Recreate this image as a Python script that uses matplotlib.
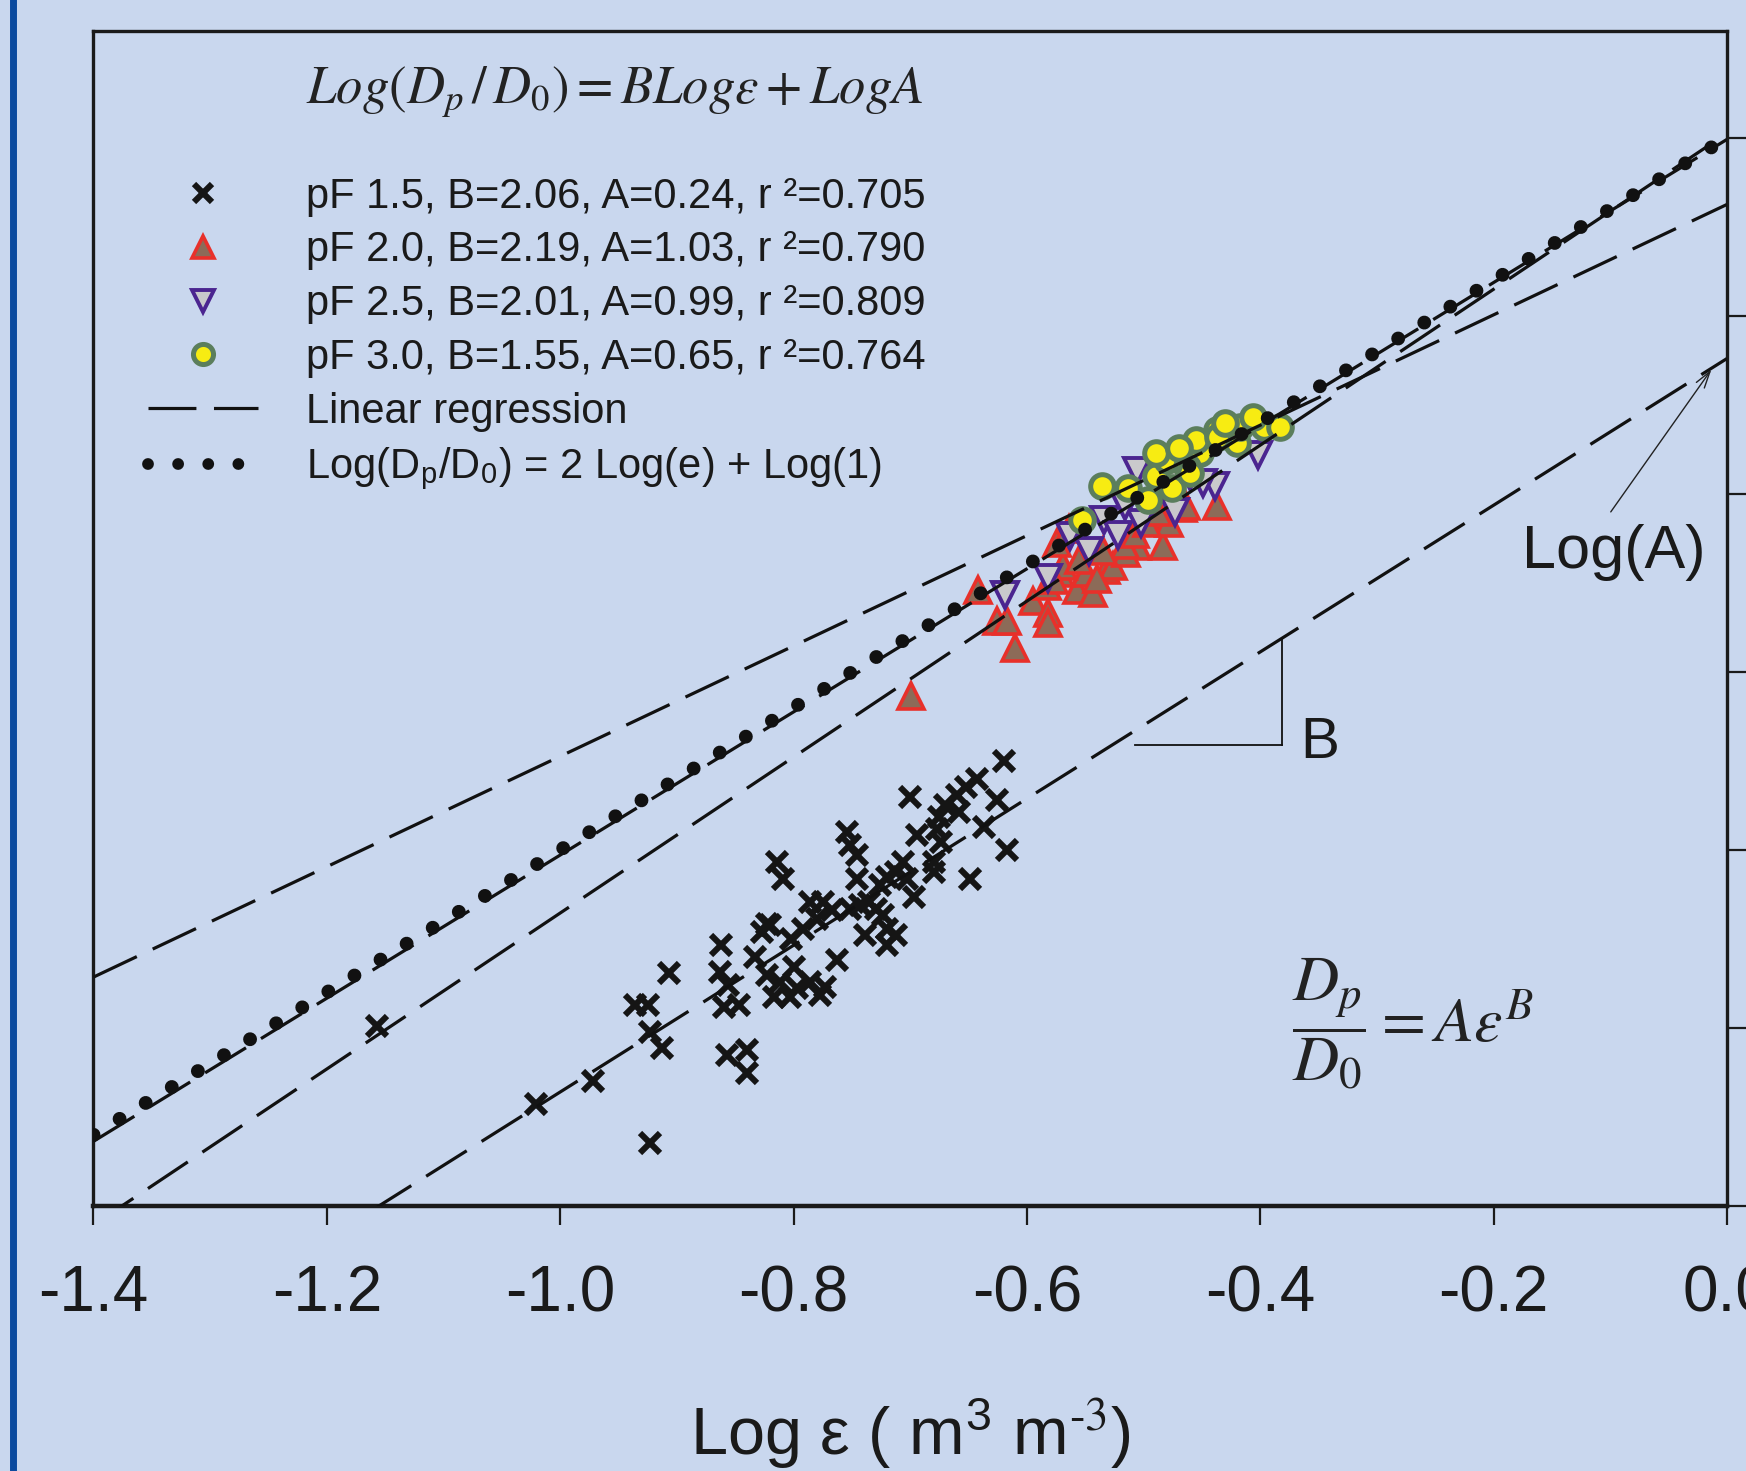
import numpy as np
import matplotlib
matplotlib.use("Agg")
import matplotlib.pyplot as plt
from matplotlib.lines import Line2D

# ---------------- data (Log eps, Log Dp/D0) ----------------
pf15_x = [-1.157, -1.021, -0.972, -0.923, -0.936, -0.925, -0.923, -0.913, -0.907,
          -0.862, -0.863, -0.856, -0.860, -0.847, -0.857, -0.840, -0.840, -0.823,
          -0.833, -0.827, -0.620, -0.700, -0.626, -0.617, -0.649, -0.643, -0.652,
          -0.660, -0.670, -0.658, -0.675, -0.637, -0.694, -0.677, -0.674, -0.680,
          -0.680, -0.706, -0.712, -0.720, -0.703, -0.697, -0.726, -0.754, -0.752,
          -0.746, -0.746, -0.743, -0.752, -0.735, -0.729, -0.723, -0.720, -0.712,
          -0.720, -0.739, -0.763, -0.786, -0.775, -0.767, -0.780, -0.792, -0.802,
          -0.820, -0.814, -0.809, -0.823, -0.812, -0.800, -0.797, -0.786, -0.773,
          -0.817, -0.803, -0.777]
pf15_y = [-2.494, -2.713, -2.650, -2.823, -2.435, -2.435, -2.510, -2.557, -2.347,
          -2.267, -2.342, -2.379, -2.440, -2.435, -2.575, -2.561, -2.627, -2.207,
          -2.300, -2.230, -1.749, -1.852, -1.861, -2.001, -2.081, -1.801, -1.824,
          -1.847, -1.875, -1.894, -1.908, -1.936, -1.959, -1.941, -1.978, -2.034,
          -2.062, -2.034, -2.062, -2.076, -2.081, -2.132, -2.099, -1.950, -1.987,
          -2.015, -2.081, -2.155, -2.165, -2.146, -2.165, -2.184, -2.221, -2.239,
          -2.268, -2.239, -2.309, -2.146, -2.146, -2.169, -2.193, -2.221, -2.249,
          -2.211, -2.034, -2.081, -2.351, -2.370, -2.328, -2.389, -2.370, -2.384,
          -2.412, -2.412, -2.407]

pf20_x = [-0.699, -0.610, -0.626, -0.617, -0.642, -0.595, -0.582, -0.582, -0.583,
          -0.557, -0.543, -0.532, -0.549, -0.572, -0.526, -0.483, -0.466, -0.437,
          -0.506, -0.515, -0.569, -0.577, -0.489, -0.555, -0.574, -0.540, -0.516,
          -0.507, -0.478, -0.464, -0.497, -0.535, -0.488, -0.564]
pf20_y = [-1.567, -1.432, -1.357, -1.357, -1.269, -1.301, -1.334, -1.362, -1.259,
          -1.269, -1.278, -1.213, -1.222, -1.222, -1.203, -1.147, -1.040, -1.035,
          -1.147, -1.166, -1.203, -1.241, -1.063, -1.185, -1.138, -1.238, -1.144,
          -1.113, -1.082, -1.035, -1.082, -1.160, -1.051, -1.098]

pf25_x = [-0.619, -0.582, -0.547, -0.534, -0.522, -0.502, -0.563, -0.439, -0.506,
          -0.402, -0.449, -0.473, -0.516, -0.480, -0.460]
pf25_y = [-1.283, -1.236, -1.161, -1.073, -1.115, -1.082, -1.119, -0.979, -0.937,
          -0.890, -0.970, -1.051, -1.035, -0.970, -0.950]

pf30_x = [-0.553, -0.536, -0.513, -0.496, -0.489, -0.480, -0.476, -0.489, -0.452,
          -0.455, -0.437, -0.420, -0.463, -0.460, -0.436, -0.417, -0.397, -0.383,
          -0.406, -0.430, -0.470]
pf30_y = [-1.073, -0.979, -0.984, -1.017, -0.951, -0.905, -0.984, -0.886, -0.886,
          -0.849, -0.820, -0.858, -0.924, -0.942, -0.839, -0.811, -0.811, -0.811,
          -0.783, -0.802, -0.870]

# regression parameters (B, A) and r^2 from the legend
fit_B = [2.06, 2.19, 2.01, 1.55]
fit_A = [0.24, 1.03, 0.99, 0.65]
fit_r2 = ["0.705", "0.790", "0.809", "0.764"]
pf_levels = ["1.5", "2.0", "2.5", "3.0"]
ref_B, ref_A = 2.0, 1.0

x_ticks = [-1.4, -1.2, -1.0, -0.8, -0.6, -0.4, -0.2, 0.0]
x_ticklabels = ["-1.4", "-1.2", "-1.0", "-0.8", "-0.6", "-0.4", "-0.2", "0.0"]
y_ticks = [0.0, -0.5, -1.0, -1.5, -2.0, -2.5, -3.0]

# ---------------- style ----------------
plt.rcParams["mathtext.fontset"] = "stix"
SANS = ["Liberation Sans", "DejaVu Sans"]
BG = "#C9D7EE"
INK = "#1a1a1a"

CROSS = dict(ls="none", marker="x", ms=15, mew=4.4, color="#151515")
UPTRI = dict(ls="none", marker="^", ms=19, mew=2.6, mec="#E8302A", mfc="#8C6B58")
DNTRI = dict(ls="none", marker="v", ms=19, mew=2.8, mec="#4B2590", mfc="#C9C9CC")
CIRC = dict(ls="none", marker="o", ms=17, mew=3.6, mec="#5B7E5C", mfc="#F7EC12")

fig = plt.figure(figsize=(17.46, 14.71), dpi=100, facecolor=BG)
ax = fig.add_axes([0.05355, 0.18015, 0.93557, 0.79878])
ax.set_facecolor(BG)
ax.set_xlim(-1.4, 0.0)
ax.set_ylim(-3.0, 0.3)

# dark blue bar on the left edge of the figure
fig.add_artist(Line2D([0.0077, 0.0077], [0, 1], transform=fig.transFigure,
                      color="#0B4A9E", lw=5))

# scatter
ax.plot(pf15_x, pf15_y, zorder=3, **CROSS)
ax.plot(pf20_x, pf20_y, zorder=3, **UPTRI)
ax.plot(pf25_x, pf25_y, zorder=3, **DNTRI)
ax.plot(pf30_x, pf30_y, zorder=3, **CIRC)

# regression lines
dash = (0, (15.0, 5.5))
xl = np.array([-1.4, 0.0])
for B, A in zip(fit_B, fit_A):
    ax.plot(xl, B * xl + np.log10(A), color="#111111", lw=2.3, ls=dash,
            zorder=4, solid_capstyle="butt")

# theoretical line Log(Dp/D0) = 2 Log(e) + Log(1)
dots = (0, (0.001, 2.2))
ax.plot(xl, ref_B * xl + np.log10(ref_A), color="#111111", lw=10, ls=dots,
        dash_capstyle="round", zorder=5)

# axes styling
for s in ax.spines.values():
    s.set_linewidth(2.4)
    s.set_color(INK)
ax.spines["bottom"].set_linewidth(3.2)
ax.set_xticks(x_ticks)
ax.set_xticklabels(x_ticklabels, family=SANS, fontsize=46)
ax.tick_params(axis="x", direction="out", length=14, width=1.6, pad=28, colors=INK)
ax.set_yticks(y_ticks)
ax.tick_params(axis="y", which="both", left=False, labelleft=False, right=True,
               labelright=False, direction="out", length=16, width=1.6, colors=INK)

ax.set_xlabel("Log ε ( m$^{\\mathregular{3}}$ m$^{\\text{-3}}$)", family=SANS,
              fontsize=48, color=INK)
ax.xaxis.set_label_coords(0.5, -0.162)
ax.xaxis.label.set_va("top")

# formula at top
ax.text(-1.218, 0.128, r"$Log(D_p\,/\,D_0) = BLog\varepsilon + LogA$",
        fontsize=38, ha="left", va="center", color="#222222")

# fraction formula
ax.text(-0.373, -2.49, r"$\dfrac{D_p}{D_0} = A\varepsilon^B$", fontsize=46,
        ha="left", va="center", color="#222222")

# B bracket
xb = -0.381
yb_top = fit_B[0] * xb + np.log10(fit_A[0])
ax.plot([xb, xb], [yb_top, -1.706], color="#111111", lw=1.3, zorder=4)
ax.plot([-0.507, xb], [-1.706, -1.706], color="#111111", lw=1.3, zorder=4)
ax.text(-0.366, -1.70, "B", family=SANS, fontsize=42, ha="left", va="center",
        color=INK)

# Log(A) with arrow to intercept of the pF 1.5 line
ax.text(-0.176, -1.166, "Log(A)", family=SANS, fontsize=44, ha="left", va="center",
        color=INK)
xa = -0.012
ax.annotate("", xy=(xa, fit_B[0] * xa + np.log10(fit_A[0])), xytext=(-0.101, -1.057),
            arrowprops=dict(arrowstyle="->,head_length=1.2,head_width=0.35",
                            color="#222222", lw=1.0), zorder=5)

# legend
def shrink(d, f):
    d = dict(d)
    d["ms"] = d["ms"] * f
    return d

handles = [
    Line2D([], [], **shrink(CROSS, 0.85)),
    Line2D([], [], **shrink(UPTRI, 0.85)),
    Line2D([], [], **shrink(DNTRI, 0.85)),
    Line2D([], [], **shrink(CIRC, 0.85)),
    Line2D([], [], color="#111111", lw=2.3, ls=dash),
    Line2D([], [], color="#111111", lw=8.5, ls=(0, (0.001, 2.55)), dash_capstyle="round"),
]
labels = [f"pF {p}, B={B:.2f}, A={A:.2f}, r ²={r}"
          for p, B, A, r in zip(pf_levels, fit_B, fit_A, fit_r2)]
labels += ["Linear regression",
           "Log(D$_\\mathregular{p}$/D$_\\mathregular{0}$) = 2 Log(e) + Log(1)"]
leg = ax.legend(handles, labels, loc="upper left", bbox_to_anchor=(0.0334, 0.876),
                frameon=False, borderpad=0, borderaxespad=0, handlelength=2.65,
                handletextpad=1.15, labelspacing=0.33,
                prop={"family": SANS, "size": 30})
for t in leg.get_texts():
    t.set_color(INK)

fig.savefig("out.png", dpi=100, facecolor=BG)
